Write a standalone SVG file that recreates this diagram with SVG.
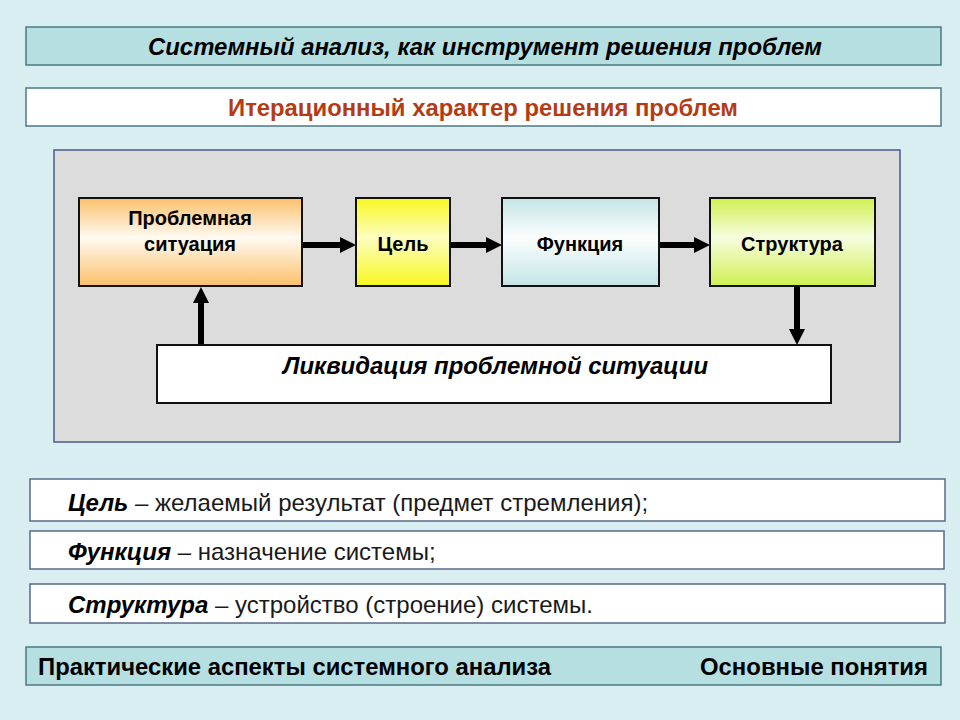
<svg xmlns="http://www.w3.org/2000/svg" width="960" height="720" viewBox="0 0 960 720">
<defs>
<linearGradient id="gOrange" x1="0" y1="0" x2="0" y2="1">
<stop offset="0" stop-color="#fbc06a"/><stop offset="0.45" stop-color="#fffaf2"/><stop offset="1" stop-color="#fbc06a"/>
</linearGradient>
<linearGradient id="gYellow" x1="0" y1="0" x2="0" y2="1">
<stop offset="0" stop-color="#f8f820"/><stop offset="0.45" stop-color="#fdfdc0"/><stop offset="1" stop-color="#f8f820"/>
</linearGradient>
<linearGradient id="gBlue" x1="0" y1="0" x2="0" y2="1">
<stop offset="0" stop-color="#c4e4e6"/><stop offset="0.45" stop-color="#fbfefe"/><stop offset="1" stop-color="#c4e4e6"/>
</linearGradient>
<linearGradient id="gGreen" x1="0" y1="0" x2="0" y2="1">
<stop offset="0" stop-color="#d0f050"/><stop offset="0.45" stop-color="#f6fde0"/><stop offset="1" stop-color="#d0f050"/>
</linearGradient>
<marker id="arr" markerWidth="16" markerHeight="16" refX="0" refY="8" orient="auto" markerUnits="userSpaceOnUse" viewBox="0 0 16 16">
<path d="M0,0 L16,8 L0,16 z" fill="#000"/>
</marker>
</defs>
<style>
.bar{fill:#b5dfe0;stroke:#4a7a86;stroke-width:1.5}
.wbox{fill:#fff;stroke:#4a7a86;stroke-width:1.5}
.def{fill:#fff;stroke:#5a6a8a;stroke-width:1.5}
.node{stroke:#111;stroke-width:2}
.t{font-family:"Liberation Sans",Arial,sans-serif;fill:#000}
.dt{font-family:"Liberation Sans",Arial,sans-serif;fill:#1a1a1a;font-size:24px}
.nt{font-family:"Liberation Sans",Arial,sans-serif;font-weight:bold;font-size:20px;fill:#000;text-anchor:middle}
.conn{stroke:#000;stroke-width:6;fill:none}
</style>
<rect x="0" y="0" width="960" height="720" fill="#d8eef0"/>

<g id="title">
<rect class="bar" x="26" y="27" width="915" height="38"/>
<text class="t" x="148" y="55" font-size="24" font-weight="bold" font-style="italic" textLength="674" lengthAdjust="spacingAndGlyphs">Системный анализ, как инструмент решения проблем</text>
</g>
<g id="subtitle">
<rect class="wbox" x="26" y="88" width="915" height="38"/>
<text class="t" x="228" y="116" font-size="24" font-weight="bold" style="fill:#b33c16" textLength="510" lengthAdjust="spacingAndGlyphs">Итерационный характер решения проблем</text>
</g>

<g id="panel">
<rect x="54" y="150" width="846" height="292" fill="#dcdcdc" stroke="#4a5a8a" stroke-width="1.5"/>
</g>

<g id="connectors">
<line class="conn" x1="303" y1="245" x2="340" y2="245" marker-end="url(#arr)"/>
<line class="conn" x1="451" y1="245" x2="486" y2="245" marker-end="url(#arr)"/>
<line class="conn" x1="660" y1="245" x2="694" y2="245" marker-end="url(#arr)"/>
<line class="conn" x1="797" y1="287" x2="797" y2="329" marker-end="url(#arr)"/>
<line class="conn" x1="201" y1="344" x2="201" y2="303" marker-end="url(#arr)"/>
</g>

<g id="problem">
<rect class="node" x="79" y="198" width="223" height="88" fill="url(#gOrange)"/>
<text class="nt" x="190" y="225">Проблемная</text>
<text class="nt" x="190" y="251">ситуация</text>
</g>
<g id="goal">
<rect class="node" x="356" y="198" width="94" height="88" fill="url(#gYellow)"/>
<text class="nt" x="403" y="251">Цель</text>
</g>
<g id="function">
<rect class="node" x="502" y="198" width="157" height="88" fill="url(#gBlue)"/>
<text class="nt" x="580" y="251">Функция</text>
</g>
<g id="structure">
<rect class="node" x="710" y="198" width="165" height="88" fill="url(#gGreen)"/>
<text class="nt" x="792" y="251">Структура</text>
</g>
<g id="liquidation">
<rect class="node" x="157" y="345" width="674" height="58" fill="#fff"/>
<text class="t" x="283" y="374" font-size="24" font-weight="bold" font-style="italic" textLength="425" lengthAdjust="spacingAndGlyphs">Ликвидация проблемной ситуации</text>
</g>

<g id="def-goal">
<rect class="def" x="30" y="479" width="915" height="42"/>
<text class="dt" x="68" y="511"><tspan font-weight="bold" font-style="italic" fill="#000">Цель</tspan> – желаемый результат (предмет стремления);</text>
</g>
<g id="def-function">
<rect class="def" x="30" y="531" width="914" height="38"/>
<text class="dt" x="68" y="560"><tspan font-weight="bold" font-style="italic" fill="#000">Функция</tspan> – назначение системы;</text>
</g>
<g id="def-structure">
<rect class="def" x="30" y="584" width="915" height="39"/>
<text class="dt" x="68" y="613"><tspan font-weight="bold" font-style="italic" fill="#000">Структура</tspan> – устройство (строение) системы.</text>
</g>

<g id="footer">
<rect class="bar" x="26" y="647" width="915" height="38"/>
<text class="t" x="38" y="675" font-size="24" font-weight="bold" textLength="513" lengthAdjust="spacingAndGlyphs">Практические аспекты системного анализа</text>
<text class="t" x="700" y="675" font-size="24" font-weight="bold" textLength="228" lengthAdjust="spacingAndGlyphs">Основные понятия</text>
</g>
</svg>
